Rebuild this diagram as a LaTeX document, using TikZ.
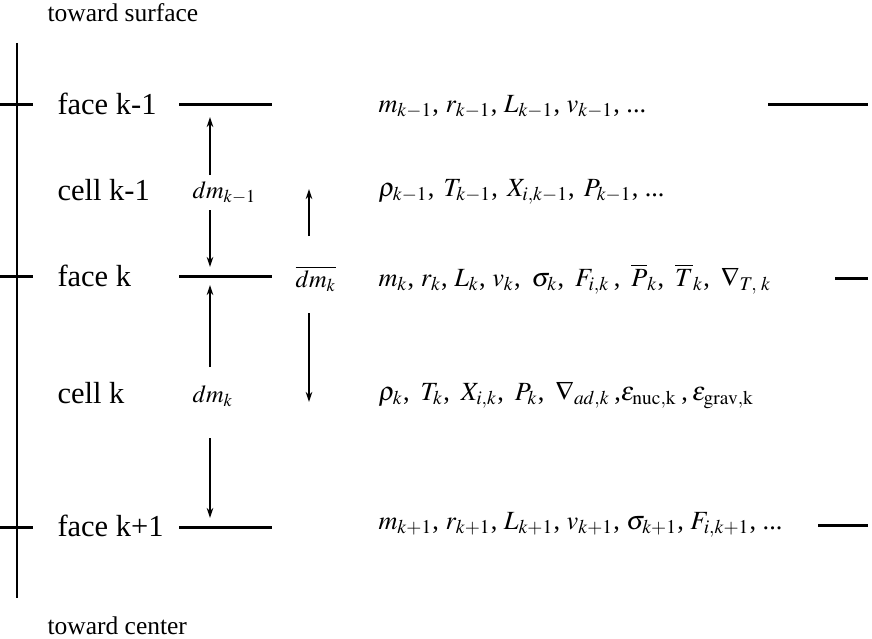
\documentclass[tikz,border=0pt]{standalone}
\usepackage{mathptmx}
\usepackage[no-math]{fontspec}
\setmainfont{Liberation Serif}
\usetikzlibrary{arrows.meta, positioning}

\begin{document}
\begin{tikzpicture}[x=0.4pt, y=-0.4pt,
		facetxt/.style={anchor=west, inner sep=0pt, font=\fontsize{12.2}{14}\selectfont},
		endtxt/.style={anchor=west, inner sep=0pt, font=\fontsize{10.2}{12}\selectfont},
		dmtxt/.style={anchor=west, inner sep=0pt, font=\fontsize{9.8}{12}\selectfont},
		vartxt/.style={anchor=west, inner sep=0pt, font=\fontsize{10.5}{12}\selectfont},
		faceline/.style={line width=1.2pt},
		axisline/.style={line width=0.6pt},
		dmarrow/.style={line width=0.5pt, -{Stealth[length=4pt, width=2.6pt]}}]
	\useasboundingbox (0, 0) rectangle (872, 639);
	% Axis, ticks and face lines:
	\coordinate (AxTop) at (17, 43);
	\coordinate (AxBot) at (17, 598);
	\draw[axisline] (AxTop) -- (AxBot);
	\coordinate (T1a) at (0, 105); \coordinate (T1b) at (33, 105);
	\coordinate (T2a) at (0, 276); \coordinate (T2b) at (33, 276);
	\coordinate (T3a) at (0, 527); \coordinate (T3b) at (33, 527);
	\draw[faceline] (T1a) -- (T1b);
	\draw[faceline] (T2a) -- (T2b);
	\draw[faceline] (T3a) -- (T3b);
	\coordinate (F1a) at (179, 105); \coordinate (F1b) at (272, 105);
	\coordinate (F2a) at (179, 276); \coordinate (F2b) at (272, 276);
	\coordinate (F3a) at (179, 527); \coordinate (F3b) at (272, 527);
	\draw[faceline] (F1a) -- (F1b);
	\draw[faceline] (F2a) -- (F2b);
	\draw[faceline] (F3a) -- (F3b);
	\coordinate (R1a) at (768, 105); \coordinate (R1b) at (868, 105);
	\coordinate (R2a) at (835, 278); \coordinate (R2b) at (868, 278);
	\coordinate (R3a) at (818, 525); \coordinate (R3b) at (868, 525);
	\draw[faceline] (R1a) -- (R1b);
	\draw[faceline] (R2a) -- (R2b);
	\draw[faceline] (R3a) -- (R3b);
	% Labels:
	\node[endtxt] (Surf) at (47, 13) {toward surface};
	\node[endtxt] (Cent) at (47, 626) {toward center};
	\node[facetxt] (FaceA) at (57, 104) {face k-1};
	\node[facetxt] (CellA) at (57, 190) {cell k-1};
	\node[facetxt] (FaceB) at (57, 276) {face k};
	\node[facetxt] (CellB) at (57, 393) {cell k};
	\node[facetxt] (FaceC) at (57, 526) {face k+1};
	\node[dmtxt] (DmA) at (192, 193) {$dm_{k-1}$};
	\node[dmtxt] (DmB) at (192, 396) {$dm_k$};
	\node[dmtxt] (DmBar) at (295, 279) {$\overline{dm_k}$};
	% Arrows:
	\coordinate (A1s) at (210, 175); \coordinate (A1e) at (210, 117);
	\coordinate (A2s) at (210, 210); \coordinate (A2e) at (210, 267);
	\coordinate (A3s) at (210, 367); \coordinate (A3e) at (210, 285);
	\coordinate (A4s) at (210, 438); \coordinate (A4e) at (210, 518);
	\coordinate (A5s) at (309, 236); \coordinate (A5e) at (309, 189);
	\coordinate (A6s) at (309, 313); \coordinate (A6e) at (309, 402);
	\draw[dmarrow] (A1s) -- (A1e);
	\draw[dmarrow] (A2s) -- (A2e);
	\draw[dmarrow] (A3s) -- (A3e);
	\draw[dmarrow] (A4s) -- (A4e);
	\draw[dmarrow] (A5s) -- (A5e);
	\draw[dmarrow] (A6s) -- (A6e);
	% Quantities on faces and cells:
	\node[vartxt] (VarA) at (378, 107) {$m_{k-1}$,\ $r_{k-1}$,\ $L_{k-1}$,\ $v_{k-1}$, ...};
	\node[vartxt] (VarB) at (378, 192) {$\rho_{k-1}$,\ \hspace{0.1em}$T_{k-1}$,\ \hspace{0.1em}$X_{i,k-1}$,\ \hspace{0.1em}$P_{k-1}$, ...};
	\node[vartxt] (VarC) at (378, 279) {$m_k$,\ $r_k$,\ $L_k$,\ $v_k$,\ \,$\sigma_k$,\ \,$F_{i,k}$\,,\ \,$\overline{P}_k$,\ \,$\overline{T}_k$,\ \,$\nabla_{T,\;k}$};
	\node[vartxt] (VarD) at (378, 395) {$\rho_k$,\ \,$T_k$,\ \,$X_{i,k}$,\ \,$P_k$,\ \,$\nabla_{ad,k}$\,,$\epsilon_{\mathrm{nuc,k}}$\,,\,$\epsilon_{\mathrm{grav,k}}$};
	\node[vartxt] (VarE) at (378, 525) {$m_{k+1}$,\ $r_{k+1}$,\ $L_{k+1}$,\ $v_{k+1}$,\ $\sigma_{k+1}$,\ $F_{i,k+1}$, ...};
\end{tikzpicture}
\end{document}
